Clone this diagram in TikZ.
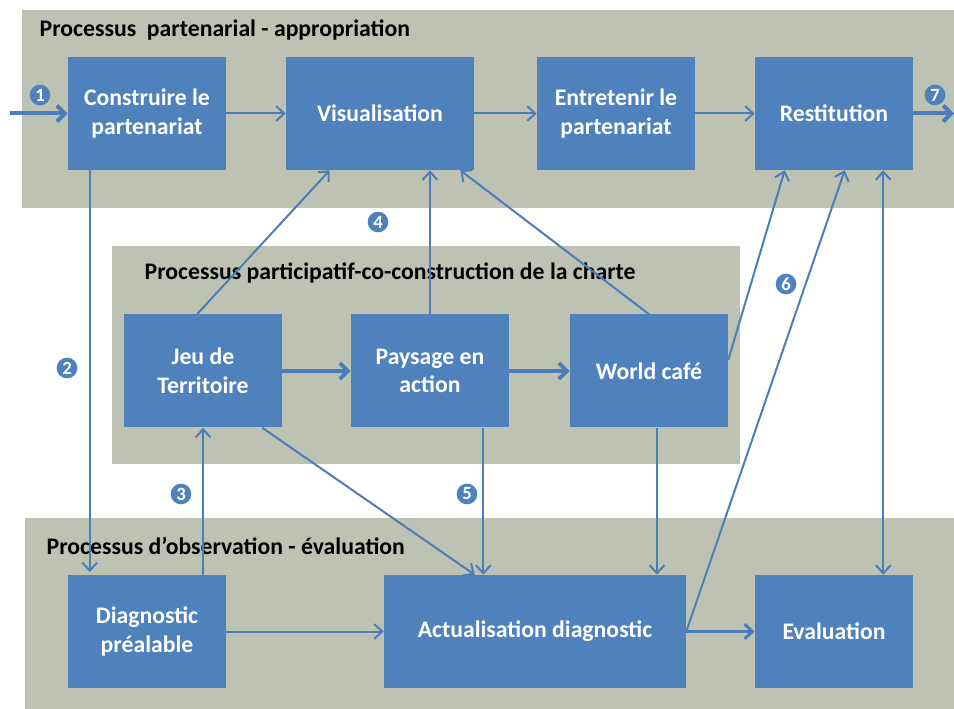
\documentclass[tikz,border=0pt]{standalone}
\usepackage{fontspec}
\setmainfont{Carlito}
\usepackage{tikz}
\usetikzlibrary{arrows.meta, positioning}
\definecolor{panelGray}{RGB}{190,194,178}
\definecolor{boxBlue}{RGB}{79,129,189}
\definecolor{lineBlue}{RGB}{74,126,187}
\tikzstyle{fPanel} = [fill=panelGray, draw=none]
\tikzstyle{fTitle} = [anchor=west, font=\fontsize{17.8}{21}\selectfont\bfseries, text=black]
\tikzstyle{fBox} = [rectangle, minimum width=118.5pt, minimum height=84.75pt, text centered, align=center, fill=boxBlue, text=white, font=\fontsize{17.8}{21.5}\selectfont\bfseries]
\tikzstyle{fNum} = [circle, fill=boxBlue, text=white, inner sep=0pt, minimum size=15.5pt, font=\fontsize{14}{14}\selectfont\bfseries]
\tikzstyle{fArrow} = [draw=lineBlue, line width=1.5pt, -{Straight Barb[length=6pt, width=11pt]}]
\tikzstyle{fThick} = [draw=lineBlue, line width=3pt, -{Straight Barb[length=6pt, width=12pt]}]

\begin{document}
\begin{tikzpicture}[x=0.75pt, y=-0.75pt]
    \useasboundingbox (0,0) rectangle (954,709);
    % panels
    \path [fPanel] (22,10) rectangle (954,208);
    \path [fPanel] (112,246) rectangle (740,464);
    \path [fPanel] (25,518) rectangle (954,709);
    \node (titlePartenarial) [fTitle] at (35,30) {Processus\ \ partenarial - appropriation};
    \node (titleParticipatif) [fTitle] at (140,273) {Processus participatif-co-construction de la charte};
    \node (titleObservation) [fTitle] at (42,546) {Processus d’observation - évaluation};

    % boxes
    \node (construire) [fBox] at (147,113.5) {Construire le\\partenariat};
    \node (visualisation) [fBox, minimum width=141pt] at (380,113.5) {Visualisation};
    \node (entretenir) [fBox] at (616,113.5) {Entretenir le\\partenariat};
    \node (restitution) [fBox] at (834,113.5) {Restitution};
    \node (jeu) [fBox] at (203,371) {Jeu de\\Territoire};
    \node (paysage) [fBox] at (430,371) {Paysage en\\action};
    \node (world) [fBox] at (649,371) {World café};
    \node (diagnostic) [fBox] at (147,631.5) {Diagnostic\\préalable};
    \node (actualisation) [fBox, minimum width=226.5pt] at (535,631.5) {Actualisation diagnostic};
    \node (evaluation) [fBox] at (834,631.5) {Evaluation};
    \coordinate (inPoint) at (10,113.5);
    \coordinate (outPoint) at (954,113.5);

    % numbers
    \node (num1) [fNum] at (40,95) {1};
    \node (num2) [fNum] at (67,368) {2};
    \node (num3) [fNum] at (181,494) {3};
    \node (num4) [fNum] at (378,222) {4};
    \node (num5) [fNum] at (467,494) {5};
    \node (num6) [fNum] at (786,284) {6};
    \node (num7) [fNum] at (935,95) {7};

    % arrows
    \draw [fThick] (inPoint) -- (construire.west);
    \draw [fArrow] (construire.east) -- (visualisation.west);
    \draw [fArrow] (visualisation.east) -- (entretenir.west);
    \draw [fArrow] (entretenir.east) -- (restitution.west);
    \draw [fThick] (restitution.east) -- (outPoint);
    \draw [fArrow] ([xshift=16.5pt]construire.south west) -- ([xshift=16.5pt, yshift=2pt]diagnostic.north west);
    \draw [fArrow] (jeu.south |- diagnostic.north) -- (jeu.south);
    \draw [fArrow] ([xshift=-4.5pt]jeu.north) -- ([xshift=33pt]visualisation.south west);
    \draw [fArrow] (paysage.north) -- (paysage.north |- visualisation.south);
    \draw [fArrow] (world.north) -- ([xshift=-10.5pt]visualisation.south east);
    \draw [fThick] (jeu.east) -- (paysage.west);
    \draw [fThick] (paysage.east) -- (world.west);
    \draw [fArrow] ([xshift=-15pt]jeu.south east) -- ([xshift=68.25pt]actualisation.north west);
    \draw [fArrow] ([xshift=-19.5pt]paysage.south east) -- ([xshift=-19.5pt]paysage.south east |- actualisation.north);
    \draw [fArrow] ([xshift=6pt]world.south) -- ([xshift=6pt]world.south |- actualisation.north);
    \draw [fArrow] ([yshift=8.25pt]world.east) -- ([xshift=22.5pt]restitution.south west);
    \draw [fArrow] (actualisation.east) -- ([xshift=67.5pt]restitution.south west);
    \draw [fArrow, {Straight Barb[length=6pt, width=11pt]}-{Straight Barb[length=6pt, width=11pt]}] ([xshift=-22.5pt]restitution.south east) -- ([xshift=-22.5pt]restitution.south east |- evaluation.north);
    \draw [fArrow, line width=2.2pt] (actualisation.east) -- (evaluation.west);
    \draw [fArrow] (diagnostic.east) -- (actualisation.west);
\end{tikzpicture}
\end{document}
